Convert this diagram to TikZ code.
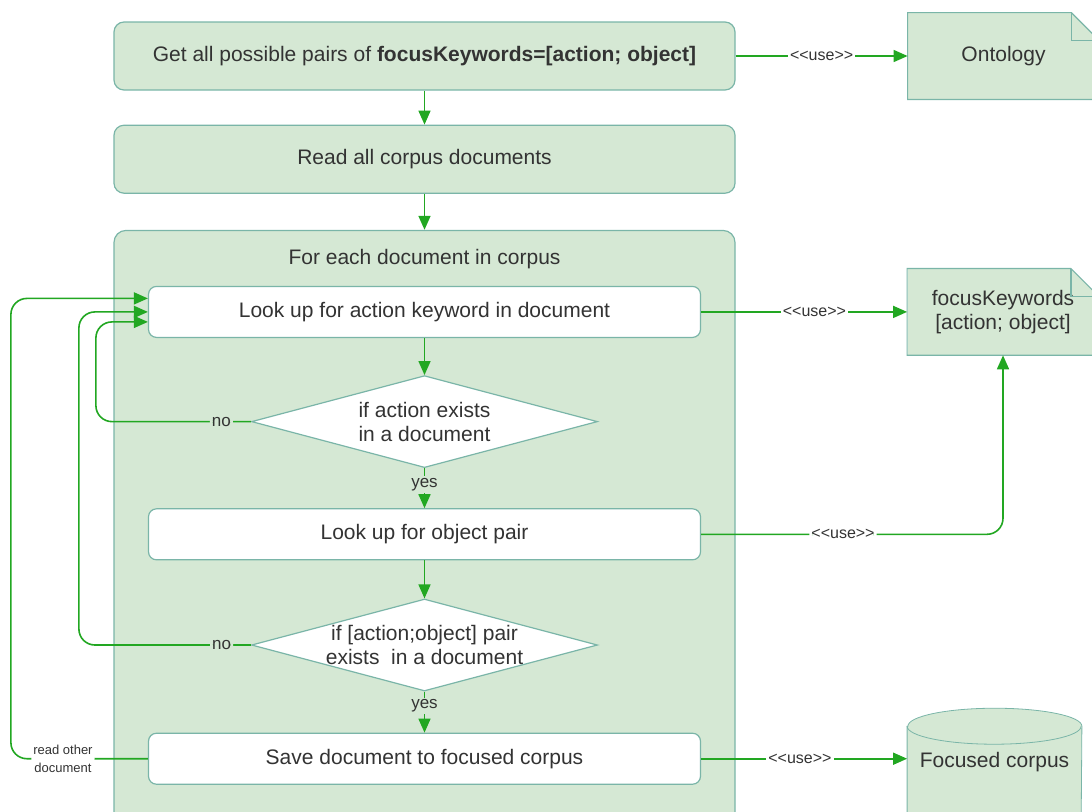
\documentclass[tikz,border=0pt]{standalone}
\usepackage{fontspec}
\setmainfont{Liberation Sans}
\usetikzlibrary{positioning,arrows.meta,shapes.geometric,backgrounds}
\definecolor{Leaf}{HTML}{D5E8D4}
\definecolor{Edge}{HTML}{7AB5A8}
\definecolor{Flow}{HTML}{22A722}
\definecolor{Ink}{HTML}{333333}

\begin{document}
\begin{tikzpicture}[
  x=0.5pt, y=0.5pt,
  font=\fontsize{10.5}{12}\selectfont, text=Ink,
  stage/.style={draw=Edge, line width=0.6pt, rounded corners=5pt, fill=Leaf, minimum width=310.5pt, minimum height=34pt, align=center},
  task/.style={draw=Edge, line width=0.6pt, rounded corners=4pt, fill=white, minimum width=276pt, minimum height=25.5pt, align=center},
  check/.style={diamond, draw=Edge, line width=0.6pt, fill=white, inner sep=0pt, minimum width=173pt, minimum height=46pt},
  note/.style={fill=Leaf, minimum width=95.5pt, minimum height=43pt, align=center},
  flow/.style={-{Triangle[length=7pt,width=6pt]}, line width=0.8pt, color=Flow},
  uselabel/.style={fill=white, inner sep=1pt, text=Ink, font=\fontsize{8}{9}\selectfont},
  branch/.style={fill=Leaf, inner sep=1pt, text=Ink, font=\fontsize{8.5}{10}\selectfont},
  backlabel/.style={fill=white, inner sep=1pt, text=Ink, align=center, font=\fontsize{6.5}{9}\selectfont}
]
  \useasboundingbox (0,0) rectangle (1092,-811);
  \clip (0,0) rectangle (1092,-811);

  % main column
  \node[stage] (getpairs) at (424.5,-56) {Get all possible pairs of \textbf{focusKeywords=[action; object]}};
  \node[stage, below=17pt of getpairs] (readall) {Read all corpus documents};
  \node[stage, rounded corners=6pt, minimum height=300pt, below=18pt of readall] (loopbox) {};
  \node[below=6pt of loopbox.north] (looptitle) {For each document in corpus};
  \node[task, below=28pt of loopbox.north] (lookaction) {Look up for action keyword in document};
  \node[check, below=18.5pt of lookaction,
        label={[align=center]center:{if action exists\\in a document}}] (ifaction) {};
  \node[task, below=20pt of ifaction] (lookobject) {Look up for object pair};
  \node[check, below=19pt of lookobject,
        label={[align=center]center:{if [action;object] pair\\exists~ in a document}}] (ifpair) {};
  \node[task, below=20.5pt of ifpair] (savedoc) {Save document to focused corpus};

  % artifacts on the right
  \node[note, right=86pt of getpairs] (ontology) {Ontology};
  \node[note, right=103pt of lookaction] (focuskw) {focusKeywords\\{}[action; object]};
  \node[minimum width=87pt, right=103pt of savedoc, yshift=-1.75pt] (focusedcorpus) {Focused corpus};

  % folded corners
  \foreach \n in {ontology, focuskw} {
    \fill[white] ([xshift=-14pt]\n.north east) -- (\n.north east) -- ([yshift=-14pt]\n.north east) -- cycle;
    \draw[Edge, line width=0.6pt] (\n.south west) -- (\n.north west) -- ([xshift=-14pt]\n.north east)
      -- ([yshift=-14pt]\n.north east) -- (\n.south east) -- cycle;
    \draw[Edge, line width=0.6pt] ([xshift=-14pt]\n.north east) |- ([yshift=-14pt]\n.north east);
  }

  % drum
  \begin{scope}[on background layer, line width=0.6pt]
    \draw[draw=Edge, fill=Leaf] ([yshift=18pt]focusedcorpus.west) -- ([yshift=-33.5pt]focusedcorpus.west)
      arc[start angle=180, end angle=360, x radius=43.5pt, y radius=9pt]
      -- ([yshift=18pt]focusedcorpus.east)
      arc[start angle=0, end angle=180, x radius=43.5pt, y radius=9pt] -- cycle;
    \draw[Edge] ([yshift=18pt]focusedcorpus.west) arc[start angle=180, end angle=360, x radius=43.5pt, y radius=9pt];
  \end{scope}

  % flow
  \draw[flow] (getpairs) -- (readall);
  \draw[flow] (readall) -- (loopbox);
  \draw[flow] (lookaction) -- (ifaction);
  \draw[flow] (ifaction) -- node[branch, pos=0.4] {yes} (lookobject);
  \draw[flow] (lookobject) -- (ifpair);
  \draw[flow] (ifpair) -- node[branch, pos=0.35] {yes} (savedoc);

  % loops back
  \draw[flow, rounded corners=8pt] (ifaction.west) -- node[branch, pos=0.19] {no} ++(-155,0)
    |- ([yshift=-5pt]lookaction.west);
  \draw[flow, rounded corners=8pt] (ifpair.west) -- node[branch, pos=0.17] {no} ++(-172,0)
    |- (lookaction.west);
  \draw[flow, rounded corners=8pt] (savedoc.west) -- node[backlabel, pos=0.62] {read other\\document} ++(-137,0)
    |- ([yshift=6.75pt]lookaction.west);

  % uses
  \draw[flow] (getpairs) -- node[uselabel, pos=0.5] {<\kern0pt<use>\kern0pt>} (ontology);
  \draw[flow] (lookaction) -- node[uselabel, pos=0.55] {<\kern0pt<use>\kern0pt>} (focuskw);
  \draw[flow, rounded corners=8pt] (lookobject.east) -| node[uselabel, pos=0.235] {<\kern0pt<use>\kern0pt>} (focuskw.south);
  \draw[flow] (savedoc.east) -- node[uselabel, pos=0.48] {<\kern0pt<use>\kern0pt>} (savedoc.east -| focusedcorpus.west);
\end{tikzpicture}
\end{document}
